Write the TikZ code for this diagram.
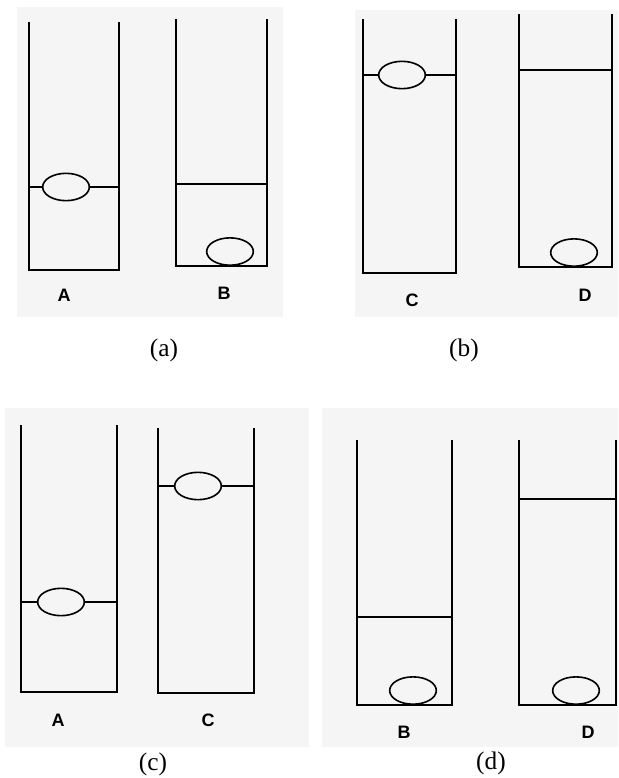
\documentclass[tikz,border=0pt]{standalone}
\usepackage{fontspec}
\setmainfont{Liberation Serif}
\setsansfont{Liberation Sans}
\usetikzlibrary{shapes.geometric}
\definecolor{panelgray}{RGB}{245,245,245}

\begin{document}
\begin{tikzpicture}[x=0.75pt, y=-0.75pt,
	tube/.style={line width=1.5pt, line join=miter},
	level/.style={line width=1.3pt},
	bubble/.style={ellipse, draw, line width=1.2pt, fill=panelgray, minimum width=35pt, minimum height=20.5pt, inner sep=0pt},
	tag/.style={font=\sffamily\bfseries\fontsize{13.5}{15}\selectfont},
	caption/.style={font=\fontsize{19}{22}\selectfont}]
	\useasboundingbox (0,0) rectangle (618,778);
	% panels
	\fill[panelgray] (17,7) rectangle (283,317);
	\fill[panelgray] (355,10) rectangle (618,317);
	\fill[panelgray] (5,408) rectangle (309,747);
	\fill[panelgray] (322,408) rectangle (618,747);

	% (a)
	\draw[tube] (29,22) -- (29,270) -- (119,270) -- (119,22);
	\node[bubble] (bA1) at (66,187) {};
	\draw[level] (29,187) -- (bA1.west) (bA1.east) -- (119,187);
	\node[tag] (tA1) at (64,295) {A};
	\draw[tube] (176,19) -- (176,266) -- (267,266) -- (267,19);
	\draw[level] (176,184) -- (267,184);
	\node[bubble, anchor=south] (bB1) at (230,266) {};
	\node[tag] (tB1) at (224,293) {B};
	\node[caption] (capa) at (164,350) {(a)};

	% (b)
	\draw[tube] (363,19) -- (363,273) -- (456,273) -- (456,19);
	\node[bubble] (bC1) at (402,75) {};
	\draw[level] (363,75) -- (bC1.west) (bC1.east) -- (456,75);
	\node[tag] (tC1) at (412,300) {C};
	\draw[tube] (519,14) -- (519,267) -- (612,267) -- (612,14);
	\draw[level] (519,70) -- (612,70);
	\node[bubble, anchor=south] (bD1) at (574,267) {};
	\node[tag] (tD1) at (585,295) {D};
	\node[caption] (capb) at (464,350) {(b)};

	% (c)
	\draw[tube] (21,425) -- (21,692) -- (117,692) -- (117,425);
	\node[bubble] (bA2) at (61,602) {};
	\draw[level] (21,602) -- (bA2.west) (bA2.east) -- (117,602);
	\node[tag] (tA2) at (58,720) {A};
	\draw[tube] (158,428) -- (158,693) -- (254,693) -- (254,428);
	\node[bubble] (bC2) at (198,486) {};
	\draw[level] (158,486) -- (bC2.west) (bC2.east) -- (254,486);
	\node[tag] (tC2) at (208,720) {C};
	\node[caption] (capc) at (153,764) {(c)};

	% (d)
	\draw[tube] (357,440) -- (357,705) -- (452,705) -- (452,440);
	\draw[level] (357,617) -- (452,617);
	\node[bubble, anchor=south] (bB2) at (413,705) {};
	\node[tag] (tB2) at (404,732) {B};
	\draw[tube] (519,440) -- (519,705) -- (616,705) -- (616,440);
	\draw[level] (519,499) -- (616,499);
	\node[bubble, anchor=south] (bD2) at (576,705) {};
	\node[tag] (tD2) at (588,732) {D};
	\node[caption] (capd) at (491,763) {(d)};
\end{tikzpicture}
\end{document}
